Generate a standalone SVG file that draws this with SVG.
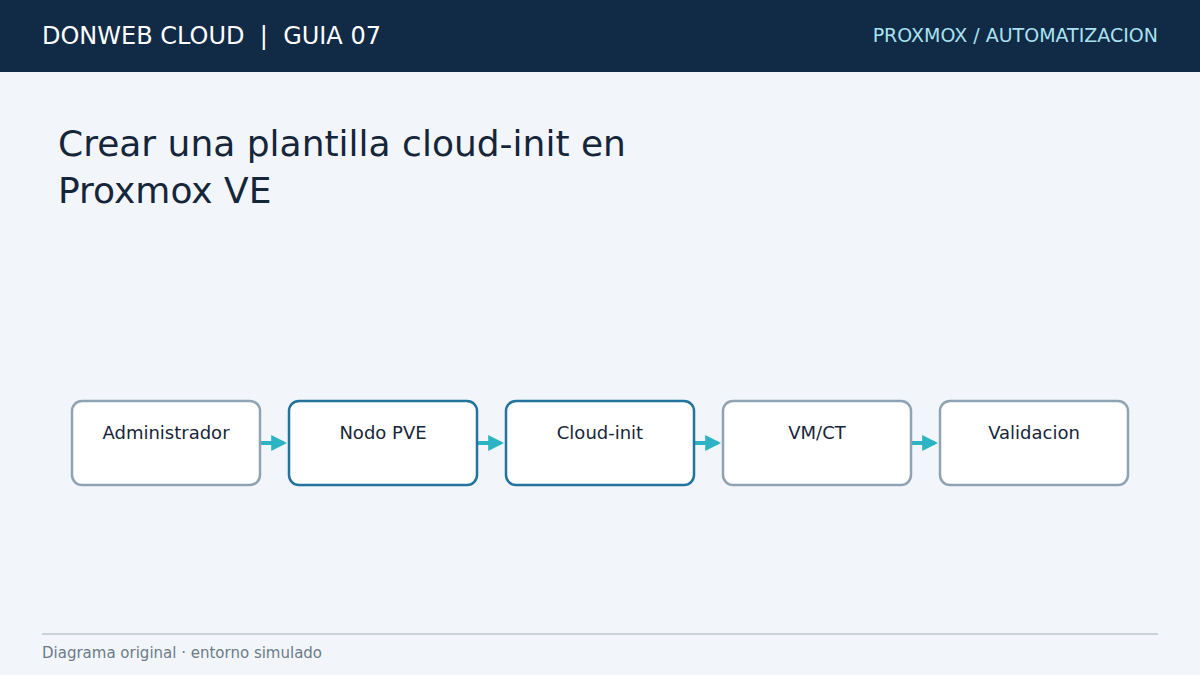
<svg xmlns="http://www.w3.org/2000/svg" width="1200" height="675" viewBox="0 0 1200 675">
<style>
text{font-family:"DejaVu Sans","Liberation Sans",sans-serif}
.box{fill:#ffffff;stroke-width:2.5}
.gray{stroke:#8fa3b2}
.blue{stroke:#23739c}
.lbl{font-size:18px;fill:#16263a;text-anchor:middle}
.conn{stroke:#2cb3c4;stroke-width:4;fill:none}
</style>
<defs>
<marker id="ah" markerWidth="4" markerHeight="4" refX="3.2" refY="2" orient="auto" markerUnits="strokeWidth">
<path d="M0,0 L4,2 L0,4 Z" fill="#2cb3c4"/>
</marker>
</defs>
<rect x="0" y="0" width="1200" height="675" fill="#f2f6fa"/>
<rect x="0" y="0" width="1200" height="72" fill="#112a45"/>
<text x="42" y="44" font-size="24" fill="#ffffff" xml:space="preserve">DONWEB CLOUD  |  GUIA 07</text>
<text x="1158" y="42" font-size="19" fill="#a9e2f2" text-anchor="end">PROXMOX / AUTOMATIZACION</text>
<text x="58" y="156" font-size="36" fill="#16263a">Crear una plantilla cloud-init en</text>
<text x="58" y="203" font-size="36" fill="#16263a">Proxmox VE</text>
<g id="connectors">
<line class="conn" x1="261" y1="443" x2="284" y2="443" marker-end="url(#ah)"/>
<line class="conn" x1="478" y1="443" x2="501" y2="443" marker-end="url(#ah)"/>
<line class="conn" x1="695" y1="443" x2="718" y2="443" marker-end="url(#ah)"/>
<line class="conn" x1="912" y1="443" x2="935" y2="443" marker-end="url(#ah)"/>
</g>
<g id="n1"><rect class="box gray" x="72" y="401" width="188" height="84" rx="10"/><text class="lbl" x="166" y="439">Administrador</text></g>
<g id="n2"><rect class="box blue" x="289" y="401" width="188" height="84" rx="10"/><text class="lbl" x="383" y="439">Nodo PVE</text></g>
<g id="n3"><rect class="box blue" x="506" y="401" width="188" height="84" rx="10"/><text class="lbl" x="600" y="439">Cloud-init</text></g>
<g id="n4"><rect class="box gray" x="723" y="401" width="188" height="84" rx="10"/><text class="lbl" x="817" y="439">VM/CT</text></g>
<g id="n5"><rect class="box gray" x="940" y="401" width="188" height="84" rx="10"/><text class="lbl" x="1034" y="439">Validacion</text></g>
<line x1="42" y1="634" x2="1158" y2="634" stroke="#c9d1d9" stroke-width="2"/>
<text x="42" y="658" font-size="15" fill="#6b7b89">Diagrama original · entorno simulado</text>
</svg>
